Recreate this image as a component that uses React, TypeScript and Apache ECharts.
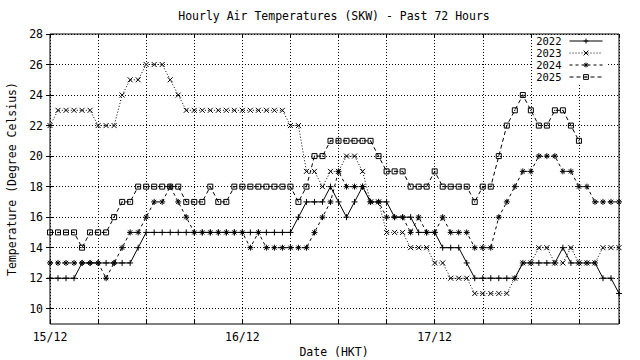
import React, { useEffect, useRef } from "react";
import * as echarts from "echarts";

// hour index from 15/12 00:00 (HKT)
const dateLabels = ["15/12", "16/12", "17/12"];
const yTickValues = [10, 12, 14, 16, 18, 20, 22, 24, 26, 28];

const t2022 = [
  12, 12, 12, 12, 13, 13, 13, 13, 13, 13, 13, 14,
  15, 15, 15, 15, 15, 15, 15, 15, 15, 15, 15, 15,
  15, 15, 15, 15, 15, 15, 15, 16, 17, 17, 17, 18,
  17, 16, 17, 18, 17, 17, 17, 16, 16, 16, 15, 15,
  15, 14, 14, 14, 13, 12, 12, 12, 12, 12, 12, 13,
  13, 13, 13, 13, 14, 13, 13, 13, 13, 12, 12, 11,
];
const t2023 = [
  22, 23, 23, 23, 23, 23, 22, 22, 22, 24, 25, 25,
  26, 26, 26, 25, 24, 23, 23, 23, 23, 23, 23, 23,
  23, 23, 23, 23, 23, 23, 22, 22, 19, 19, 18, 19,
  19, 20, 20, 19, 17, 17, 15, 15, 15, 14, 14, 14,
  13, 13, 12, 12, 12, 11, 11, 11, 11, 11, 12, 13,
  13, 14, 14, 13, 13, 14, 13, 13, 13, 14, 14, 14,
];
const t2024 = [
  13, 13, 13, 13, 13, 13, 13, 12, 13, 14, 15, 15,
  16, 17, 17, 18, 17, 16, 15, 15, 15, 15, 15, 15,
  15, 14, 15, 14, 14, 14, 14, 14, 14, 15, 16, 17,
  19, 18, 18, 18, 17, 17, 16, 16, 16, 15, 16, 15,
  15, 16, 15, 15, 15, 14, 14, 14, 16, 17, 18, 19,
  19, 20, 20, 20, 19, 19, 18, 18, 17, 17, 17, 17,
];
const t2025 = [
  15, 15, 15, 15, 14, 15, 15, 15, 16, 17, 17, 18,
  18, 18, 18, 18, 18, 17, 17, 17, 18, 17, 17, 18,
  18, 18, 18, 18, 18, 18, 18, 17, 18, 20, 20, 21,
  21, 21, 21, 21, 21, 20, 19, 19, 19, 18, 18, 18,
  19, 18, 18, 18, 18, 17, 18, 18, 20, 22, 23, 24,
  23, 22, 22, 23, 23, 22, 21,
];

const FONT = "DejaVu Sans Mono";
const FS = 11.5;

const SYM_PLUS = "path://M5 0L5 10M0 5L10 5";
const SYM_CROSS = "path://M0 0L10 10M10 0L0 10";
const SYM_STAR = "path://M5 0L5 10M0 5L10 5M1.5 1.5L8.5 8.5M8.5 1.5L1.5 8.5";
const SYM_SQUARE = "path://M0 0L10 0L10 10L0 10ZM4.6 4.6L5.4 4.6L5.4 5.4L4.6 5.4Z";

function toPoints(vals: number[]) {
  return vals.map((v, i) => [i, v]);
}

function mkSeries(name: string, vals: number[], symbol: string, size: number, dash: any, fill: string) {
  return {
    name,
    type: "line",
    data: toPoints(vals),
    symbol,
    symbolSize: size,
    showSymbol: true,
    lineStyle: { color: "#000", width: 1, type: dash },
    itemStyle: { color: fill, borderColor: "#000", borderWidth: 1 },
    emphasis: { disabled: true },
    z: 3,
  };
}

export default function App() {
  const ref = useRef<HTMLDivElement>(null);
  useEffect(() => {
    if (!ref.current) return;
    const chart = echarts.init(ref.current, null, { renderer: "svg" });
    const tickStyle = { color: "#000", width: 1 };
    const gridLine = { show: true, lineStyle: { color: "#000", width: 1, type: [1, 2] } };
    chart.setOption({
      animation: false,
      backgroundColor: "#fff",
      grid: {
        left: 50,
        right: 21,
        top: 34,
        bottom: 36,
        show: true,
        borderColor: "#000",
        borderWidth: 1,
      },
      xAxis: [
        {
          type: "value",
          min: 0,
          max: 71,
          interval: 6,
          position: "bottom",
          axisLine: { show: false },
          axisTick: { show: true, inside: true, length: 4, lineStyle: tickStyle },
          axisLabel: {
            formatter: (v: number) => (v % 24 === 0 ? dateLabels[v / 24] : ""),
            margin: 7,
            color: "#000",
            fontFamily: FONT,
            fontSize: FS,
          },
          splitLine: gridLine,
        },
        {
          type: "value",
          min: 0,
          max: 71,
          interval: 6,
          position: "top",
          axisLine: { show: false },
          axisTick: { show: true, inside: true, length: 4, lineStyle: tickStyle },
          axisLabel: { show: false },
          splitLine: { show: false },
        },
      ],
      yAxis: [
        {
          type: "value",
          min: 9,
          max: 28,
          position: "left",
          axisLine: { show: false },
          axisTick: { show: true, inside: true, length: 4, lineStyle: tickStyle, customValues: yTickValues },
          axisLabel: {
            customValues: yTickValues,
            margin: 7,
            color: "#000",
            fontFamily: FONT,
            fontSize: FS,
          },
          splitLine: gridLine,
        },
        {
          type: "value",
          min: 9,
          max: 28,
          position: "right",
          axisLine: { show: false },
          axisTick: { show: true, inside: true, length: 4, lineStyle: tickStyle, customValues: yTickValues },
          axisLabel: { show: false },
          splitLine: { show: false },
        },
      ],
      legend: {
        data: ["2022", "2023", "2024", "2025"],
        orient: "vertical",
        right: 33,
        top: 35,
        align: "right",
        itemWidth: 33,
        itemHeight: 6,
        itemGap: 0,
        padding: [0, 4, 0, 4],
        backgroundColor: "#fff",
        lineStyle: { width: 1 },
        itemStyle: { borderWidth: 1 },
        textStyle: { fontFamily: FONT, fontSize: 10.5, color: "#000", lineHeight: 12, padding: [0, 3, 0, 0] },
      },
      series: [
        mkSeries("2022", t2022, SYM_PLUS, 6, "solid", "#000"),
        mkSeries("2023", t2023, SYM_CROSS, 5, [1, 2], "#000"),
        mkSeries("2024", t2024, SYM_STAR, 6, [3, 3], "#000"),
        mkSeries("2025", t2025, SYM_SQUARE, 5, [4, 3], "rgba(0,0,0,0)"),
      ],
      graphic: [
        {
          type: "text",
          x: 334,
          y: 16,
          style: {
            text: "Hourly Air Temperatures (SKW) - Past 72 Hours",
            fontFamily: FONT,
            fontSize: FS,
            fill: "#000",
            align: "center",
            verticalAlign: "middle",
          },
        },
        {
          type: "text",
          x: 334,
          y: 352,
          style: {
            text: "Date (HKT)",
            fontFamily: FONT,
            fontSize: FS,
            fill: "#000",
            align: "center",
            verticalAlign: "middle",
          },
        },
        {
          type: "text",
          x: 12,
          y: 179,
          rotation: Math.PI / 2,
          style: {
            text: "Temperature (Degree Celsius)",
            fontFamily: FONT,
            fontSize: FS,
            fill: "#000",
            align: "center",
            verticalAlign: "middle",
          },
        },
      ],
    });
    return () => chart.dispose();
  }, []);
  return (
    <div
      ref={ref}
      style={{ position: "fixed", left: 0, top: 0, width: 640, height: 360, background: "#fff" }}
    />
  );
}
